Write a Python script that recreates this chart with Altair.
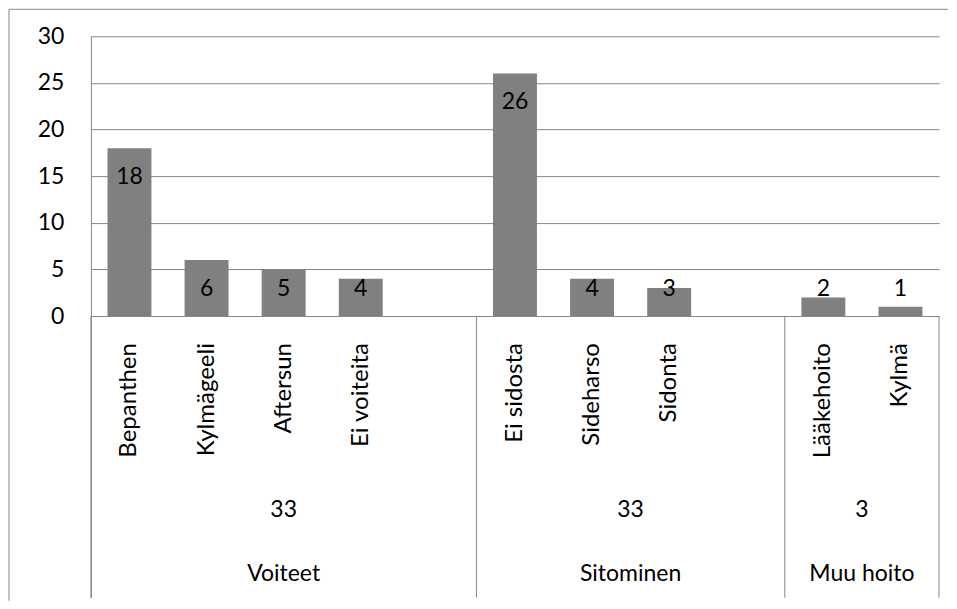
import altair as alt
import pandas as pd

# ---- data ----
groups = ["Voiteet", "Sitominen", "Muu hoito"]
group_totals = [33, 33, 3]
# category rows of each group (blank strings are empty category rows)
group_items = [
    ["Bepanthen", "Kylmägeeli", "Aftersun", "Ei voiteita", ""],
    ["Ei sidosta", "Sideharso", "Sidonta", ""],
    ["Lääkehoito", "Kylmä"],
]
group_values = [
    [18, 6, 5, 4, None],
    [26, 4, 3, None],
    [2, 1],
]
y_ticks = [0, 5, 10, 15, 20, 25, 30]

# ---- tables built from the arrays ----
bar_rows, group_rows, bounds = [], [], [0]
slot = 0
for g, tot, its, vals in zip(groups, group_totals, group_items, group_values):
    start = slot
    for it, v in zip(its, vals):
        if it:
            bar_rows.append({"item": it, "value": v, "slot": slot, "group": g})
        slot += 1
    group_rows.append({"group": g, "total": str(tot), "mid": (start + slot) / 2})
    bounds.append(slot)
n_slots = slot

bars_df = pd.DataFrame(bar_rows)
groups_df = pd.DataFrame(group_rows)
bounds_df = pd.DataFrame({"b": bounds})

GRAY = "#868686"
FONT = "Lato"
Y_MIN = -30.2

xs = alt.Scale(domain=[0, n_slots], nice=False, zero=False)
ys = alt.Scale(domain=[Y_MIN, 30], nice=False, zero=False)

y_axis = alt.Axis(values=y_ticks, grid=True, gridColor=GRAY, gridWidth=1,
                  ticks=False, domainColor=GRAY, domainWidth=1,
                  labelPadding=27, labelFont=FONT, labelFontSize=23,
                  labelColor="#000000", title=None)


def Y(field):
    return alt.Y(field, scale=ys, axis=y_axis)


def X(field):
    return alt.X(field, scale=xs, axis=None)


bars = alt.Chart(bars_df).transform_calculate(
    x0="datum.slot + 0.215", x1="datum.slot + 0.785", base="0"
).mark_bar(color="#808080").encode(
    x=X("x0:Q"), x2="x1:Q", y=Y("value:Q"), y2="base:Q",
)

value_labels = alt.Chart(bars_df).transform_calculate(
    xc="datum.slot + 0.5", ly="max(datum.value - 3.1, 2.9)"
).mark_text(font=FONT, fontSize=23, color="#000000", baseline="middle").encode(
    x=X("xc:Q"), y=Y("ly:Q"), text="value:Q",
)

item_labels = alt.Chart(bars_df).transform_calculate(
    xc="datum.slot + 0.5", ly="-2.9"
).mark_text(font=FONT, fontSize=24, color="#000000", angle=270,
            align="right", baseline="middle").encode(
    x=X("xc:Q"), y=Y("ly:Q"), text="item:N",
)

total_labels = alt.Chart(groups_df).transform_calculate(
    ly="-20.8"
).mark_text(font=FONT, fontSize=23, color="#000000", baseline="middle").encode(
    x=X("mid:Q"), y=Y("ly:Q"), text="total:N",
)

group_labels = alt.Chart(groups_df).transform_calculate(
    ly="-27.7"
).mark_text(font=FONT, fontSize=23, color="#000000", baseline="middle").encode(
    x=X("mid:Q"), y=Y("ly:Q"), text="group:N",
)

separators = alt.Chart(bounds_df).transform_calculate(
    top="0", bottom=str(Y_MIN)
).mark_rule(color=GRAY, strokeWidth=1).encode(
    x=X("b:Q"), y=Y("top:Q"), y2="bottom:Q",
)

# outer chart-area frame (only its top and left edges are visible in the reference)
frame_df = pd.DataFrame({"k": [0]})
frame_top = alt.Chart(frame_df).mark_rule(color=GRAY, strokeWidth=1).encode(
    x=alt.value(-82), x2=alt.value(858), y=alt.value(-27)
)
frame_left = alt.Chart(frame_df).mark_rule(color=GRAY, strokeWidth=1).encode(
    x=alt.value(-82), y=alt.value(-27), y2=alt.value(565)
)

chart = alt.layer(
    bars, value_labels, item_labels, total_labels, group_labels,
    separators, frame_top, frame_left
).properties(
    width=849, height=562, padding=0, background="#ffffff"
).configure_view(stroke=None)

chart.save("out.html", embed_options={"renderer": "svg", "actions": False})
